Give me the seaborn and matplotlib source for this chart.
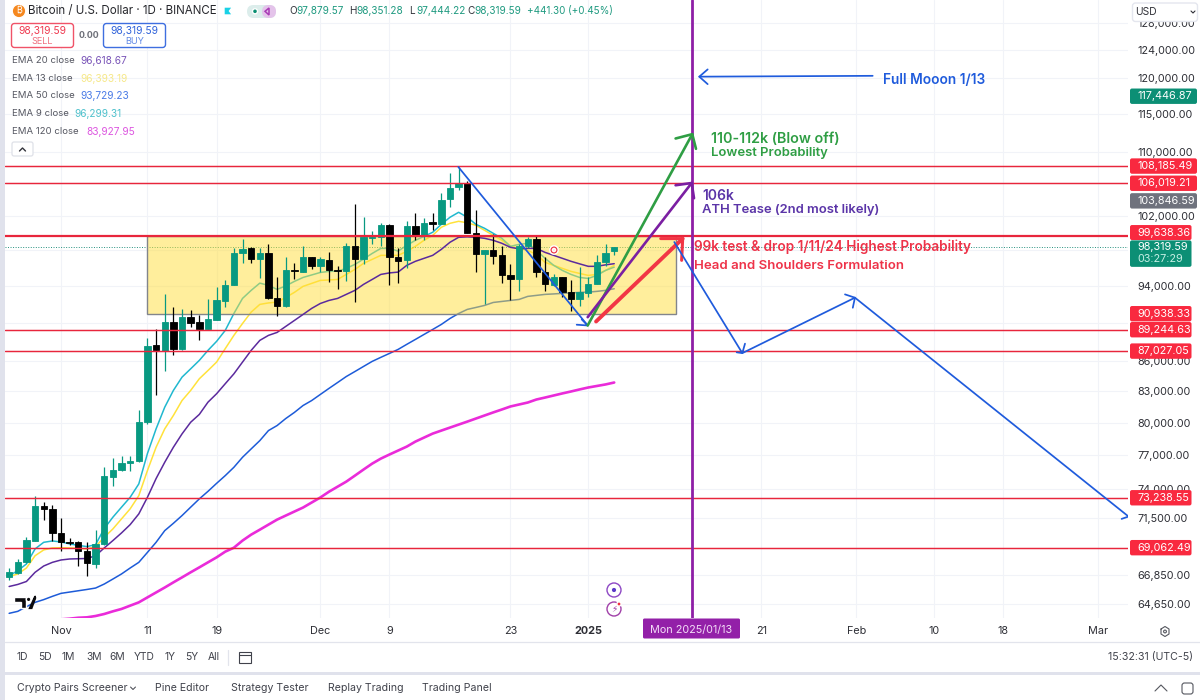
import numpy as np
import pandas as pd
import matplotlib
matplotlib.use('Agg')
import matplotlib.pyplot as plt
from matplotlib.patches import Rectangle, Circle, FancyBboxPatch, Polygon
import seaborn as sns

# ------------------------------------------
# data (x = days after Nov 1 2024)
# ------------------------------------------
DAYS = list(range(-6, 65))
OPEN = [66690, 67040, 67880, 69640, 72500, 72290, 70240, 69560, 69500, 68820, 67750, 69370, 75090, 75680, 76330, 76450, 80040,
        87610, 87000, 90040, 87200, 90570, 90040, 89350, 90300, 92300, 94050, 97620, 98240, 96940, 97700, 92670, 91750, 95720,
        95500, 97200, 96150, 96910, 95720, 95610, 98440, 96940, 99450, 99530, 100900, 97230, 96830, 100790, 99720, 101260,
        101100, 104030, 105560, 106060, 100040, 97510, 97970, 97390, 95200, 94680, 98440, 99260, 95500, 94020, 94940, 93280,
        92510, 93170, 94200, 96640, 97880]
HIGH = [67400, 68150, 69970, 73420, 72850, 72630, 71530, 69860, 69640, 69500, 70540, 75900, 76750, 76960, 76960, 81160, 88330,
        89270, 93030, 91650, 91400, 91290, 90750, 92480, 93800, 94570, 98200, 99260, 98320, 98200, 98670, 94900, 97200, 96490,
        98480, 97200, 97200, 97740, 96150, 98790, 103420, 101860, 100230, 101180, 101020, 98200, 101380, 102370, 101780, 102340,
        104760, 107320, 108090, 106300, 102700, 98050, 99840, 98440, 96370, 98670, 99490, 99720, 97260, 95320, 94940, 94650,
        96090, 94940, 97460, 98670, 98351]
LOW = [66490, 66960, 67800, 69600, 71380, 69640, 68760, 69310, 67560, 66820, 67440, 69310, 74230, 75560, 75620, 76360, 79900,
       82600, 85060, 86590, 87100, 89520, 88130, 89270, 90220, 91610, 94020, 96490, 96490, 94790, 92480, 90650, 91650, 94680,
       95470, 95800, 95500, 94380, 93580, 94490, 92180, 96370, 98670, 98440, 94020, 94240, 95920, 99140, 99140, 100390,
       101020, 103100, 105150, 99960, 95500, 91940, 96370, 94270, 92370, 93390, 98290, 94940, 93390, 93910, 92730, 91210,
       91720, 92730, 94130, 96150, 97444]
CLOSE = [67090, 67880, 69700, 72540, 72250, 70240, 69500, 69480, 68820, 67800, 69370, 75110, 75680, 76330, 76510, 80040, 87600,
         87170, 90040, 87200, 90570, 89940, 89350, 90400, 92370, 94050, 97660, 98170, 96940, 97700, 92670, 91750, 95690, 95580,
         97200, 96150, 96940, 95690, 95610, 98440, 96940, 99530, 99560, 100900, 97260, 96750, 100790, 99800, 101180, 101100,
         103990, 105480, 106060, 99990, 97510, 97970, 97350, 95130, 94680, 98520, 99260, 95500, 94130, 94940, 93280, 92510,
         93250, 94200, 96640, 97700, 98320]

EMA9 = [66820, 67220, 67750, 68960, 69500, 69610, 69530, 69370, 69250, 69150, 69310, 70630, 71580, 72430, 73280, 74440, 77150,
        79420, 81470, 83090, 84400, 85230, 86080, 87100, 88030, 89170, 90960, 92590, 93470, 94270, 94020, 93580, 93960, 94460,
        94900, 95180, 95460, 95580, 95610, 95920, 96370, 96980, 97620, 98200, 98200, 97890, 98550, 99140, 99600, 100080,
        101020, 101860, 102460, 101860, 101020, 100550, 99960, 99370, 98440, 98670, 98790, 97970, 97060, 96260, 95690, 95240,
        94900, 94790, 95130, 95690, 96060]
EMA13 = [66750, 66960, 67430, 68410, 68880, 69040, 69060, 69040, 69010, 68960, 69150, 69910, 70600, 71440, 72290, 73420, 75620,
         77720, 79420, 80680, 82110, 83090, 84240, 85060, 85910, 87280, 88650, 89900, 91110, 91940, 92100, 92190, 92700, 93250,
         93910, 94240, 94570, 94620, 94680, 95240, 95800, 96490, 96940, 97400, 97400, 97400, 97860, 98440, 99140, 99720,
         100670, 101140, 101380, 101200, 100900, 100310, 99720, 99140, 98440, 98200, 97970, 97510, 96600, 96260, 95920, 95580,
         95350, 95130, 95240, 95690, 96260]
EMA20 = [65980, 66140, 66370, 67090, 67590, 67880, 68070, 68150, 68170, 68190, 68410, 69040, 69640, 70270, 70960, 71860, 73280,
         74910, 76360, 77720, 78950, 80040, 80780, 81950, 82770, 83750, 84730, 85910, 87100, 88130, 88650, 88960, 89590, 90220,
         90860, 91510, 92040, 92370, 92590, 93030, 93470, 94130, 94680, 95240, 95410, 95500, 96260, 96720, 97060, 97400,
         98090, 98910, 99490, 99550, 99490, 99370, 99140, 98790, 98320, 98150, 98200, 98200, 97740, 97400, 97060, 96720,
         96430, 96150, 96150, 96320, 96450]
EMA50 = [63930, 64080, 64430, 64760, 64970, 65220, 65450, 65550, 65650, 65750, 65860, 66170, 66560, 66960, 67430, 67880, 68680,
         69500, 70460, 71070, 71720, 72430, 73140, 73790, 74490, 75170, 75910, 76810, 77570, 78330, 79260, 79730, 80390, 80970,
         81630, 82110, 82700, 83290, 83870, 84460, 84960, 85470, 85980, 86390, 86790, 87200, 87720, 88230, 88750, 89270,
         89800, 90430, 90960, 91400, 91610, 91830, 92150, 92260, 92370, 92480, 92810, 92920, 93030, 93080, 93140, 93190,
         93250, 93280, 93360, 93470, 93650]
EMA120_DAYS = list(range(0, 65))
EMA120 = [63480, 63530, 63600, 63630, 63730, 63880, 64080, 64260, 64510, 64760, 65140, 65520, 65900, 66300, 66690, 67090, 67480,
          67880, 68280, 68740, 69060, 69640, 70130, 70540, 70960, 71380, 71720, 72060, 72400, 72830, 73260, 73760, 74200,
          74640, 75170, 75710, 76240, 76690, 77060, 77420, 77780, 78240, 78610, 78980, 79260, 79540, 79820, 80100, 80390,
          80680, 80970, 81250, 81540, 81730, 81920, 82210, 82400, 82600, 82800, 82990, 83190, 83380, 83530, 83680, 83870]

LEVELS = [108185.49, 106019.21, 99638.36, 89244.63, 87027.05, 73238.55, 69062.49]
LAST_PRICE = 98319.59
BOX_DAYS = [10, 71.1]
BOX_PRICES = [90938.33, 99638.36]
RED_TAGS = [108185.49, 106019.21, 90938.33, 89244.63, 87027.05, 73238.55, 69062.49]
GRAY_TAG = 103846.59
GREEN_TAG = 117446.87
JAN13 = 73

XTICK_DAYS = [0, 10, 18, 30, 38, 52, 61, 81, 92, 101, 109, 120]
XTICK_LABELS = ['Nov', '11', '19', 'Dec', '9', '23', '2025', '21', 'Feb', '10', '18', 'Mar']
YTICKS = [128000, 124000, 120000, 115000, 110000, 106000, 102000, 98000, 94000, 90000, 86000, 83000, 80000, 77000, 74000,
          71500, 66850, 64650]
YTICKS_UNDER_TAGS = [106000, 98000, 90000]

# hand drawn lines: (days, prices, colour, width)
BLUE = '#1f5bdc'
GREEN = '#2f9e44'
PURPLE = '#7b1fa2'
RED = '#f23645'
DRAWN = [
    ([45.96, 60.93], [108080, 89690], BLUE, 1.25),
    ([59.66, 60.93, 60.24], [89770, 89690, 90330], BLUE, 1.25),
    ([60.93, 73.03], [89690, 112320], GREEN, 1.9),
    ([71.1, 73.03, 73.46], [111750, 112320, 110400], GREEN, 1.9),
    ([60.93, 72.96], [90570, 106050], PURPLE, 1.9),
    ([71.1, 72.96, 73.23], [105770, 106050, 104170], PURPLE, 1.9),
    ([61.9, 71.92], [90110, 99340], RED, 2.8),
    ([69.38, 71.92, 71.8], [99340, 99340, 96830], RED, 2.2),
    ([70.95, 78.82, 91.85, 123.5], [98940, 86820, 92670, 71640], BLUE, 1.25),
    ([78.17, 78.82, 79.13], [86900, 86820, 87790], BLUE, 1.25),
    ([90.7, 91.85, 91.6], [93030, 92670, 91580], BLUE, 1.25),
    ([122.7, 123.5], [71440, 71640], BLUE, 1.25),
    ([93.9, 73.84], [120300, 120180], BLUE, 1.25),
    ([74.81, 73.84, 74.81], [121210, 120180, 119130], BLUE, 1.25),
]

CANDLE_UP = '#089981'
CANDLE_DOWN = '#000000'
TAG_RED = '#f9293f'
GRID = '#f1f3f8'
TEXT = '#3a3d46'

sns.set_theme(style='white')
plt.rcParams['font.family'] = ['Inter', 'Noto Sans', 'DejaVu Sans']

W, H = 1200, 700
fig = plt.figure(figsize=(W / 100, H / 100), dpi=100)
fig.patch.set_facecolor('white')
ax = fig.add_axes([5 / W, 1 - 618 / H, (1128 - 5) / W, 618 / H])

# ------------------------------------------
# price axis and time axis
# ------------------------------------------
ax.set_yscale('log')
ax.set_xlim((5 - 61) / 8.644, (1128 - 61) / 8.644)
ax.set_ylim(63580, 131520)
ax.yaxis.tick_right()
ax.minorticks_off()
ax.set_yticks(YTICKS)
ax.set_yticklabels(['' if v in YTICKS_UNDER_TAGS else f'{v:,.2f}' for v in YTICKS])
ax.set_xticks(XTICK_DAYS)
ax.set_xticklabels(XTICK_LABELS)
ax.tick_params(axis='y', length=0, pad=6.5, labelsize=7.8, labelcolor='#2e2f36')
ax.tick_params(axis='x', length=0, pad=5.5, labelsize=7.8, labelcolor='#2e2f36')
ax.get_xticklabels()[6].set_fontweight('bold')
ax.grid(True, color=GRID, lw=0.8)
ax.set_axisbelow(True)
ax.minorticks_off()
for s in ax.spines.values():
    s.set_visible(False)

# ------------------------------------------
# EMAs, then the yellow box, then the candles
# ------------------------------------------
ema_df = pd.DataFrame({'day': DAYS, 'EMA 9': EMA9, 'EMA 13': EMA13, 'EMA 20': EMA20, 'EMA 50': EMA50})
sns.lineplot(data=ema_df, x='day', y='EMA 50', color='#1d5bd8', lw=1.1, ax=ax, zorder=2)
sns.lineplot(data=ema_df, x='day', y='EMA 13', color='#ffe23b', lw=1.1, ax=ax, zorder=2)
sns.lineplot(data=ema_df, x='day', y='EMA 9', color='#20b8cf', lw=1.1, ax=ax, zorder=2)
sns.lineplot(data=ema_df, x='day', y='EMA 20', color='#5b2a9d', lw=1.1, ax=ax, zorder=3.5)
sns.lineplot(x=EMA120_DAYS, y=EMA120, color='#ea2bd9', lw=1.9, ax=ax, zorder=2)
ax.set_xlabel('')
ax.set_ylabel('')

ax.add_patch(Rectangle((BOX_DAYS[0], BOX_PRICES[0]), BOX_DAYS[1] - BOX_DAYS[0], BOX_PRICES[1] - BOX_PRICES[0],
                       fc='#ffde3a', alpha=0.5, ec='none', zorder=3))
ax.add_patch(Rectangle((BOX_DAYS[0], BOX_PRICES[0]), BOX_DAYS[1] - BOX_DAYS[0], BOX_PRICES[1] - BOX_PRICES[0],
                       fc='none', ec='#82858c', lw=1.0, zorder=3))

colors = [CANDLE_UP if c >= o else CANDLE_DOWN for o, c in zip(OPEN, CLOSE)]
ax.vlines(DAYS, LOW, HIGH, colors=colors, lw=0.9, zorder=4)
ax.bar(DAYS, np.array(CLOSE) - np.array(OPEN), bottom=OPEN, width=0.74, color=colors, lw=0.6, edgecolor=colors, zorder=4)

# levels and drawings
for lv in LEVELS:
    ax.axhline(lv, color='#e8263c', lw=1.6 if lv == 99638.36 else 1.05, zorder=5)
ax.axhline(LAST_PRICE, color='#26917f', lw=0.7, ls=(0, (1, 1.6)), zorder=2)
ax.axvline(JAN13, color='#8e1fa6', lw=2.0, zorder=6)
for dx, dy, col, lw in DRAWN:
    ax.plot(dx, dy, color=col, lw=lw, zorder=7, solid_capstyle='round', solid_joinstyle='round')

ax.set_xlim((5 - 61) / 8.644, (1128 - 61) / 8.644)
ax.set_ylim(63580, 131520)

# ------------------------------------------
# everything around the chart, in screen pixels
# ------------------------------------------
ui = fig.add_axes([0, 0, 1, 1], facecolor='none')
ui.set_xlim(0, W)
ui.set_ylim(H, 0)
ui.axis('off')


def px_y(price):
    return H - ax.transData.transform((0, price))[1]


def label(x, y, s, size=7.8, color=TEXT, weight='normal', ha='left', va='center', **kw):
    ui.text(x, y, s, fontsize=size, color=color, fontweight=weight, ha=ha, va=va, **kw)


def box(x, y, w, h, fc='white', ec='none', lw=1.0, rad=2.0, z=5):
    ui.add_patch(FancyBboxPatch((x, y), w, h, boxstyle=f'round,pad=0,rounding_size={rad}', fc=fc, ec=ec, lw=lw, zorder=z))


# drawn notes
label(883, 79.5, 'Full Mooon 1/13', 9.9, BLUE, 'semibold')
label(711, 139, '110-112k (Blow off)', 10.3, GREEN, 'semibold')
label(711, 153, 'Lowest Probability', 9.4, GREEN, 'semibold')
label(702.5, 196.5, '106k', 10, '#5b35a8', 'semibold')
label(702.5, 210.5, 'ATH Tease (2nd most likely)', 9.4, '#5b35a8', 'semibold')
label(694, 247, '99k test & drop 1/11/24 Highest Probability', 9.8, '#ee3349', 'semibold')
label(694, 266, 'Head and Shoulders Formulation', 9.5, '#ee3349', 'semibold')

# price tags
for v in RED_TAGS:
    y = px_y(v)
    w = 67 if v >= 100000 else 61.5
    box(1130, y - 7.7, w, 15.4, fc=TAG_RED, z=6)
    label(1137, y, f'{v:,.2f}', 7.8, 'white', zorder=7)
y = px_y(GREEN_TAG)
box(1130, y - 7.7, 67, 15.4, fc='#0c8f75', z=6)
label(1137, y, f'{GREEN_TAG:,.2f}', 7.8, 'white', zorder=7)
y = px_y(GRAY_TAG)
box(1130, y - 7.7, 67, 15.4, fc='#6f727d', z=6)
label(1137, y, f'{GRAY_TAG:,.2f}', 7.8, 'white', zorder=7)
y = px_y(BOX_PRICES[1]) - 3.5
box(1130, y - 7.5, 61.5, 15, fc=TAG_RED, z=6)
label(1137, y, f'{BOX_PRICES[1]:,.2f}', 7.8, 'white', zorder=7)
y = px_y(LAST_PRICE)
box(1130, y - 7, 61.5, 26.5, fc='#0c8f75', z=6)
label(1137, y - 0.5, f'{LAST_PRICE:,.2f}', 7.8, 'white', zorder=7)
label(1137, y + 11.5, '03:27:29', 7.8, '#c5efe4', zorder=7)

# USD selector
box(1132.5, 3, 65, 18.5, fc='white', ec='#e4e6ee', lw=1.0, rad=3)
label(1135, 12, 'USD', 7.4, '#2e2f36', zorder=7)
ui.plot([1191, 1193, 1195], [11, 13, 11], color='#2e2f36', lw=0.8, zorder=7)

# crosshair date tag
box(643, 618.5, 97, 20, fc='#9320a8', rad=1.5)
label(691.5, 629.5, 'Mon 2025/01/13', 7.8, '#f3dcf7', ha='center', zorder=7)

# title row
ui.add_patch(Circle((19, 11), 6.8, fc='#f5881f', zorder=5))
label(19, 11, '₿', 6.5, 'white', ha='center', zorder=6)
label(28, 11, 'Bitcoin / U.S. Dollar · 1D · BINANCE', 8.3, '#26272c')
ui.add_patch(Polygon([(224, 7), (232.5, 7), (229.5, 11), (232.5, 15), (224, 15)], fc='#19d1e6', zorder=5))
box(247, 5, 29, 13, fc='#dcedeb', rad=6.5)
box(262, 5, 14, 13, fc='#e4c3ea', rad=6.5, z=5.5)
ui.add_patch(Circle((255, 11.3), 2.5, fc='#0a8f72', zorder=6))
ui.add_patch(Polygon([(269, 8), (265, 11.3), (269, 15)], fc='none', ec='#a83bb5', lw=1.1, zorder=6))
OHLC_X = [289, 349, 408.7, 467]
for x, k, s in zip(OHLC_X, 'OHLC', ['97,879.57', '98,351.28', '97,444.22', '98,319.59']):
    label(x, 11, k, 7.2, '#33353c')
    label(x + 7.6, 11, s, 7.2, '#1f9a80')
label(527, 11, '+441.30 (+0.45%)', 7.1, '#1f9a80')

# buy / sell
box(11.5, 23.5, 62, 24, fc='white', ec='#f05368', lw=1.0, rad=3)
box(103.5, 23.5, 62, 24, fc='white', ec='#3f6fe0', lw=1.0, rad=3)
label(42.5, 31, '98,319.59', 7.4, '#ef3a50', ha='center', zorder=7)
label(42.5, 41.5, 'SELL', 6.6, '#f0707f', ha='center', zorder=7)
label(134.5, 31, '98,319.59', 7.4, '#2f62da', ha='center', zorder=7)
label(134.5, 41.5, 'BUY', 6.6, '#5f88e6', ha='center', zorder=7)
label(88.5, 36, '0.00', 6.4, '#6d6f78', ha='center', weight='bold')

# EMA legend
EMA_ROWS = [('EMA 20 close', '96,618.67', '#7a55b8', 80), ('EMA 13 close', '96,393.19', '#f6e88a', 80),
            ('EMA 50 close', '93,729.23', '#4a7be6', 80), ('EMA 9 close', '96,299.31', '#4fc1cc', 74),
            ('EMA 120 close', '83,927.95', '#dd58e0', 86)]
for (name, val, col, x), y in zip(EMA_ROWS, [60.5, 78.5, 96, 114, 132]):
    label(12, y, name, 6.9, '#555761')
    label(x, y, val, 7.3, col)
box(12, 142, 21, 14, fc='white', ec='#dfe1e8', lw=0.9, rad=2)
ui.plot([19.5, 22.5, 25.5], [151, 148, 151], color='#33353c', lw=1.0, zorder=7)

# small marks on the chart
ui.add_patch(Polygon([(14, 597), (26, 597), (26, 608), (20.5, 608), (20.5, 601.5), (14, 601.5)], fc='#0b0b0f', zorder=5))
ui.add_patch(Circle((28.6, 599.4), 2.3, fc='#0b0b0f', zorder=5))
ui.add_patch(Polygon([(30, 608), (35, 597), (36, 597), (36, 597), (35.5, 597), (31.5, 608)], fc='#0b0b0f', ec='#0b0b0f', lw=1.6, zorder=5))
ui.add_patch(Circle((614, 590), 7, fc='white', ec='#8d47c4', lw=1.0, zorder=5))
ui.add_patch(Circle((614, 590), 2.8, fc='#5a38c8', zorder=6))
ui.add_patch(Circle((614, 609), 7, fc='white', ec='#a03fa8', lw=1.0, zorder=5))
label(614, 609, '⚡', 6.5, '#a03fa8', ha='center', zorder=6)
ui.add_patch(Circle((619, 604), 2.1, fc='#f0303f', zorder=6))
ui.add_patch(Circle((554, 250), 4.2, fc='#ee3340', zorder=8))
ui.add_patch(Circle((554, 250), 1.6, fc='#ffd9d9', zorder=8))
ui.plot([1161, 1165, 1169, 1169, 1165, 1161, 1161], [629, 626.5, 629, 634, 636.5, 634, 629], color='#55575f', lw=0.8)
ui.add_patch(Circle((1165, 631.5), 1.4, fc='none', ec='#55575f', lw=0.8))

# bottom bars
ui.add_patch(Rectangle((0, 0), 4.5, H, fc='#e0e2ec', ec='none', zorder=9))
ui.plot([5, W], [642, 642], color='#e2e4ec', lw=0.9)
ui.add_patch(Rectangle((0, 672), W, 3, fc='#e0e2ec', ec='none', zorder=9))
for x, s in zip([16.5, 38, 62, 86, 109, 134, 164.5, 185.5, 208], ['1D', '5D', '1M', '3M', '6M', 'YTD', '1Y', '5Y', 'All']):
    label(x, 657, s, 7.4, '#40424b')
ui.plot([228, 228], [650, 665], color='#e2e4ec', lw=0.9)
ui.add_patch(Rectangle((239, 652), 12, 11, fc='none', ec='#40424b', lw=0.8))
ui.plot([239, 251], [655, 655], color='#40424b', lw=0.8)
for x, s in zip([17, 155, 231, 328, 422], ['Crypto Pairs Screener', 'Pine Editor', 'Strategy Tester', 'Replay Trading', 'Trading Panel']):
    label(x, 688, s, 7.6, '#40424b')
ui.plot([130.5, 133, 135.5], [687, 689.5, 687], color='#40424b', lw=0.7)
label(1193, 657, '15:32:31 (UTC-5)', 7.6, '#40424b', ha='right')
ui.plot([1155, 1161, 1167], [691, 685, 691], color='#55575f', lw=0.8)
ui.add_patch(FancyBboxPatch((1182, 683), 11, 11, boxstyle='round,pad=0,rounding_size=2.5', fc='none', ec='#55575f', lw=0.8))

fig.savefig('out.png', dpi=100)
